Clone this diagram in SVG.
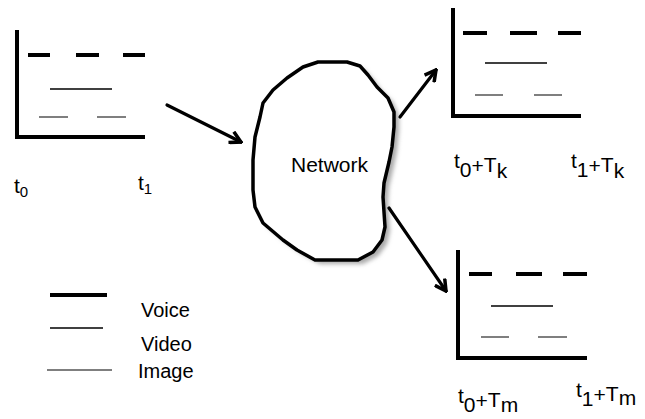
<svg xmlns="http://www.w3.org/2000/svg" width="645" height="419" viewBox="0 0 645 419">
<style>
text{font-family:"Liberation Sans",Arial,sans-serif;fill:#000}
.axis{stroke:#000;stroke-width:4;fill:none}
.voice{stroke:#000;stroke-width:4}
.video{stroke:#000;stroke-width:1.5}
.image{stroke:#555;stroke-width:1.5}
.conn{stroke:#000;stroke-width:3.2;fill:none;stroke-linecap:round}
.lbl{font-size:21px}
</style>
<defs>
<marker id="ah" viewBox="0 0 14 14" refX="12" refY="7" markerWidth="14" markerHeight="14" markerUnits="userSpaceOnUse" orient="auto">
<polyline points="1,1 12,7 1,13" fill="none" stroke="#000" stroke-width="3.5" stroke-linejoin="miter"/>
</marker>
<filter id="blur" x="-10%" y="-10%" width="120%" height="120%"><feGaussianBlur stdDeviation="2"/></filter>
</defs>
<rect width="645" height="419" fill="#fff"/>

<g id="chart-source">
<polyline class="axis" points="17,30 17,137 145,137"/>
<line class="voice" x1="28" y1="55" x2="50" y2="55"/>
<line class="voice" x1="76" y1="55" x2="99" y2="55"/>
<line class="voice" x1="123" y1="55" x2="145" y2="55"/>
<line class="video" x1="50" y1="89" x2="112" y2="89"/>
<line class="image" x1="39" y1="117" x2="68" y2="117"/>
<line class="image" x1="97" y1="117" x2="126" y2="117"/>
<text x="14" y="193" font-size="21">t<tspan font-size="15" dy="4">0</tspan></text>
<text x="138" y="190" font-size="21">t<tspan font-size="15" dy="4">1</tspan></text>
</g>

<g id="network">
<path d="M318,62 L347,62 L360,66 L368,75 L377,87 L388,98 L394,112 L394,127 L392,147 L389,162 L384,183 L383,197 L385,227 L382,240 L373,252 L358,260 L315,260 L297,250 L283,240 L263,223 L255,207 L253,190 L253,160 L255,137 L260,117 L263,103 L273,90 L287,78 L303,67 Z" transform="translate(5,4)" fill="#aaa" filter="url(#blur)"/>
<path d="M318,62 L347,62 L360,66 L368,75 L377,87 L388,98 L394,112 L394,127 L392,147 L389,162 L384,183 L383,197 L385,227 L382,240 L373,252 L358,260 L315,260 L297,250 L283,240 L263,223 L255,207 L253,190 L253,160 L255,137 L260,117 L263,103 L273,90 L287,78 L303,67 Z" fill="#fff" stroke="#000" stroke-width="3.5" stroke-linejoin="round"/>
<text x="291" y="172" font-size="21">Network</text>
</g>

<g id="chart-k">
<polyline class="axis" points="453,8 453,116 581,116"/>
<line class="voice" x1="463" y1="33" x2="487" y2="33"/>
<line class="voice" x1="510" y1="33" x2="537" y2="33"/>
<line class="voice" x1="558" y1="33" x2="581" y2="33"/>
<line class="video" x1="485" y1="63" x2="547" y2="63"/>
<line class="image" x1="475" y1="95" x2="503" y2="95"/>
<line class="image" x1="534" y1="95" x2="562" y2="95"/>
<text class="lbl" x="454" y="168">t<tspan dy="9">0</tspan><tspan dy="-4">+</tspan><tspan dy="-1">T</tspan><tspan dy="6">k</tspan></text>
<text class="lbl" x="571" y="168">t<tspan dy="9">1</tspan><tspan dy="-4">+</tspan><tspan dy="-1">T</tspan><tspan dy="6">k</tspan></text>
</g>

<g id="chart-m">
<polyline class="axis" points="458,250 458,358 587,358"/>
<line class="voice" x1="469" y1="274" x2="492" y2="274"/>
<line class="voice" x1="516" y1="274" x2="542" y2="274"/>
<line class="voice" x1="563" y1="274" x2="587" y2="274"/>
<line class="video" x1="491" y1="306" x2="553" y2="306"/>
<line class="image" x1="481" y1="337" x2="509" y2="337"/>
<line class="image" x1="538" y1="337" x2="567" y2="337"/>
<text class="lbl" x="458" y="403">t<tspan dy="9">0</tspan><tspan dy="-4">+</tspan><tspan dy="-1">T</tspan><tspan dy="5">m</tspan></text>
<text class="lbl" x="576" y="397">t<tspan dy="9">1</tspan><tspan dy="-4">+</tspan><tspan dy="-1">T</tspan><tspan dy="4">m</tspan></text>
</g>

<g id="legend">
<line x1="50" y1="295" x2="107" y2="295" stroke="#000" stroke-width="4"/>
<line x1="50" y1="328" x2="103" y2="328" stroke="#000" stroke-width="1.5"/>
<line x1="47" y1="370" x2="112" y2="370" stroke="#555" stroke-width="1.5"/>
<text x="141" y="317" font-size="20">Voice</text>
<text x="141" y="351" font-size="20">Video</text>
<text x="138" y="378" font-size="20">Image</text>
</g>

<g id="connectors">
<line class="conn" x1="167" y1="105" x2="241" y2="142" marker-end="url(#ah)"/>
<line class="conn" x1="400" y1="117" x2="436" y2="70" marker-end="url(#ah)"/>
<line class="conn" x1="389" y1="208" x2="446" y2="291" marker-end="url(#ah)"/>
</g>
</svg>
